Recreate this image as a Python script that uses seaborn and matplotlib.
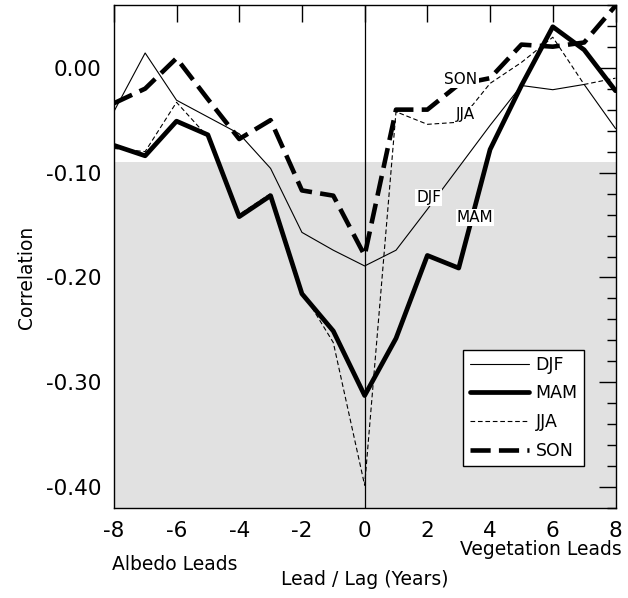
import numpy as np
import pandas as pd
import matplotlib
matplotlib.use("Agg")
import matplotlib.pyplot as plt
from matplotlib.ticker import MultipleLocator
import seaborn as sns

# ---------------- data ----------------
lags = [-8, -7, -6, -5, -4, -3, -2, -1, 0, 1, 2, 3, 4, 5, 6, 7, 8]
djf = [-0.042, 0.014, -0.031, -0.047, -0.063, -0.096, -0.157, -0.174, -0.189,
       -0.174, -0.135, -0.095, -0.055, -0.017, -0.021, -0.016, -0.058]
mam = [-0.074, -0.084, -0.051, -0.064, -0.142, -0.122, -0.2155, -0.251, -0.3125,
       -0.258, -0.179, -0.191, -0.078, -0.017, 0.039, 0.017, -0.022]
jja = [-0.077, -0.080, -0.033, -0.066, -0.140, -0.120, -0.213, -0.262, -0.398,
       -0.042, -0.054, -0.052, -0.015, 0.005, 0.029, -0.016, -0.010]
son = [-0.034, -0.020, 0.009, -0.030, -0.068, -0.050, -0.117, -0.122, -0.179,
       -0.040, -0.040, -0.016, -0.010, 0.022, 0.020, 0.024, 0.059]
series_names = ["DJF", "MAM", "JJA", "SON"]

xticks = [-8, -6, -4, -2, 0, 2, 4, 6, 8]
xtick_labels = ["-8", "-6", "-4", "-2", "0", "2", "4", "6", "8"]
yticks = [0.0, -0.1, -0.2, -0.3, -0.4]
ytick_labels = ["0.00", "-0.10", "-0.20", "-0.30", "-0.40"]
shade_top = -0.09

# inline label positions (x, y)
label_pos = {"SON": (3.07, -0.011), "JJA": (3.20, -0.0445),
             "DJF": (2.05, -0.124), "MAM": (3.52, -0.143)}

# ---------------- style ----------------
sns.set_theme(style="white")
plt.rcParams["font.family"] = ["DejaVu Sans"]
plt.rcParams["axes.unicode_minus"] = False
plt.rcParams["text.color"] = "black"
plt.rcParams["axes.labelcolor"] = "black"
plt.rcParams["xtick.color"] = "black"
plt.rcParams["ytick.color"] = "black"

df = pd.DataFrame({"lag": lags * 4,
                   "corr": djf + mam + jja + son,
                   "season": sum([[s] * len(lags) for s in series_names], [])})

styles = {
    "DJF": dict(lw=0.8, ls="-"),
    "MAM": dict(lw=3.4, ls="-"),
    "JJA": dict(lw=0.8, ls=(0, (4.2, 2.5))),
    "SON": dict(lw=3.3, ls=(0, (4.4, 1.8))),
}

fig = plt.figure(figsize=(6.28, 5.98), dpi=100)
ax = fig.add_axes([0.1812, 0.15, 0.7989, 0.8421])

ax.axhspan(-0.42, shade_top, color="#e1e1e1", zorder=0, lw=0)
ax.axvline(0, color="black", lw=0.9, zorder=1)

for s in series_names:
    sub = df[df["season"] == s]
    sns.lineplot(data=sub, x="lag", y="corr", ax=ax, color="black",
                 linewidth=styles[s]["lw"], linestyle=styles[s]["ls"],
                 label=s, zorder=3, estimator=None)

for s, (lx, ly) in label_pos.items():
    ax.text(lx, ly, s, ha="center", va="center", fontsize=11, zorder=5,
            color="black",
            bbox=dict(facecolor="white", edgecolor="none", pad=0.8))

ax.set_xlim(-8, 8)
ax.set_ylim(-0.42, 0.06)
ax.set_xticks(xticks)
ax.set_xticklabels(xtick_labels)
ax.set_yticks(yticks)
ax.set_yticklabels(ytick_labels)
ax.yaxis.set_minor_locator(MultipleLocator(0.02))

ax.tick_params(axis="both", which="both", direction="in", top=True, right=True,
               color="black", labelcolor="black", width=1.0)
ax.tick_params(axis="both", which="major", length=12, labelsize=15.5, pad=9)
ax.tick_params(axis="y", which="minor", length=6.5)
for sp in ax.spines.values():
    sp.set_color("black")
    sp.set_linewidth(1.0)

ax.set_xlabel("Lead / Lag (Years)", fontsize=13.5, color="black")
ax.xaxis.set_label_coords(0.5, -0.1225)
ax.set_ylabel("Correlation", fontsize=13.5, color="black")
ax.yaxis.set_label_coords(-0.155, 0.459)

fig.text(112 / 628, 1 - 570 / 598, "Albedo Leads", ha="left", va="baseline",
         fontsize=13.5, color="black")
fig.text(622 / 628, 1 - 555 / 598, "Vegetation Leads", ha="right",
         va="baseline", fontsize=13.5, color="black")

leg = ax.legend(loc="lower right", bbox_to_anchor=(0.937, 0.084),
                borderaxespad=0, frameon=True, fancybox=False, fontsize=12.5,
                handlelength=3.45, handletextpad=0.36, labelspacing=0.62,
                borderpad=0.35)
for t in leg.get_texts():
    t.set_color("black")
leg.get_frame().set_edgecolor("black")
leg.get_frame().set_linewidth(1.0)
leg.get_frame().set_facecolor("white")
leg.get_frame().set_alpha(1)
leg.set_zorder(6)

fig.savefig("out.png", dpi=100)
